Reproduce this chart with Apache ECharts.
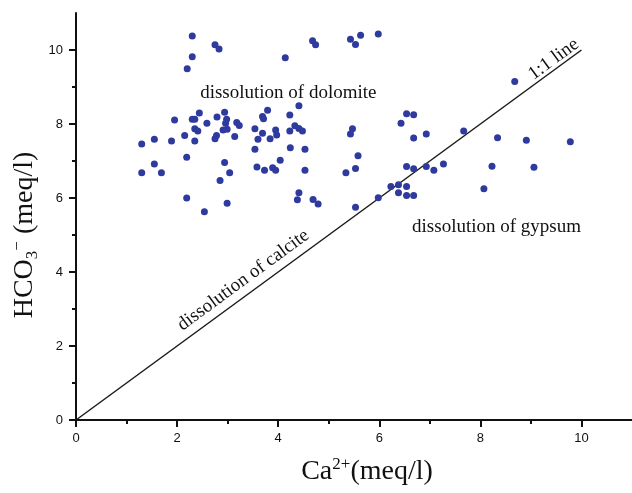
<!DOCTYPE html>
<html>
<head>
<meta charset="utf-8">
<script src="https://cdn.jsdelivr.net/npm/echarts@6/dist/echarts.min.js"></script>
<style>
  html, body { margin: 0; padding: 0; background: #ffffff; }
  #chart { width: 632px; height: 493px; }
</style>
</head>
<body>
<div id="chart"></div>
<script>
// Ca2+ (meq/l) of each water sample
const caValues = [
  2.30, 2.75, 2.83, 2.30, 2.20, 4.14, 2.44, 2.94, 1.95, 2.30,
  2.35, 2.79, 2.98, 2.59, 2.96, 3.18, 3.23, 2.35, 2.41, 2.91,
  2.99, 2.15, 2.78, 2.75, 3.14, 1.30, 1.55, 1.89, 2.35, 2.19,
  1.55, 1.69, 1.30, 2.94, 3.04, 2.85, 2.19, 2.99, 2.54, 3.79,
  3.69, 3.71, 3.54, 3.69, 3.60, 3.84, 3.95, 3.97, 4.23, 4.33,
  4.41, 4.23, 3.54, 4.24, 3.58, 3.73, 3.89, 3.95, 4.04, 4.41,
  4.41, 4.38, 4.68, 4.74, 5.43, 5.53, 5.63, 5.98, 4.48, 4.53,
  4.53, 4.69, 4.79, 5.47, 5.43, 5.58, 5.53, 5.34, 5.53, 5.98,
  6.23, 6.38, 6.38, 6.54, 6.54, 6.68, 6.54, 6.68, 6.93, 7.08,
  7.27, 6.54, 6.68, 6.43, 6.68, 6.93, 7.67, 8.68, 8.34, 8.91,
  9.78, 8.23, 9.06, 8.07
];

// HCO3- (meq/l) of the same samples
const hco3Values = [
  10.38, 10.14, 10.03, 9.82, 9.49, 9.79, 8.30, 8.32, 8.11, 8.13,
  8.13, 8.19, 8.13, 8.02, 8.02, 8.04, 7.96, 7.87, 7.81, 7.84,
  7.86, 7.69, 7.69, 7.60, 7.66, 7.46, 7.59, 7.54, 7.54, 7.10,
  6.92, 6.68, 6.68, 6.96, 6.68, 6.47, 6.00, 5.86, 5.63, 8.37,
  8.20, 8.14, 7.87, 7.75, 7.59, 7.60, 7.84, 7.70, 8.24, 7.95,
  7.88, 7.81, 7.32, 7.36, 6.84, 6.75, 6.82, 6.75, 7.02, 8.49,
  6.14, 5.95, 10.25, 10.14, 10.29, 10.15, 10.40, 10.43, 7.81, 7.32,
  6.75, 5.96, 5.84, 7.87, 7.73, 7.14, 6.80, 6.68, 5.75, 6.01,
  6.31, 6.36, 6.14, 6.31, 6.07, 6.07, 6.85, 6.79, 6.85, 6.75,
  6.92, 8.28, 8.25, 8.02, 7.62, 7.73, 7.81, 9.15, 7.63, 7.56,
  7.52, 6.86, 6.83, 6.25
];

// 1:1 reference line end points
const lineX = [0, 10];
const lineY = [0, 10];

// axis ticks
const majorTicks = [0, 2, 4, 6, 8, 10];
const minorTicks = [1, 3, 5, 7, 9];

const samples = caValues.map((v, i) => [v, hco3Values[i]]);
const equalityLine = lineX.map((v, i) => [v, lineY[i]]);

const serif = '"Liberation Serif", "DejaVu Serif", serif';
const sans = '"Liberation Sans", Arial, sans-serif';
const ink = '#111111';

function mainAxis(extra) {
  return Object.assign({
    type: 'value',
    min: 0,
    max: 11,
    interval: 1,
    axisLine: { show: true, onZero: false, lineStyle: { color: ink, width: 2 } },
    axisTick: { show: true, customValues: majorTicks, length: 7, lineStyle: { color: ink, width: 2 } },
    axisLabel: { show: true, customValues: majorTicks, margin: 12, color: ink, fontFamily: sans, fontSize: 13 },
    splitLine: { show: false }
  }, extra);
}

function minorAxis(extra) {
  return Object.assign({
    type: 'value',
    min: 0,
    max: 11,
    interval: 1,
    axisLine: { show: false, onZero: false },
    axisTick: { show: true, customValues: minorTicks, length: 4, lineStyle: { color: ink, width: 2 } },
    axisLabel: { show: false },
    splitLine: { show: false }
  }, extra);
}

const chart = echarts.init(document.getElementById('chart'), null, { renderer: 'canvas' });

chart.setOption({
  animation: false,
  backgroundColor: '#ffffff',
  grid: { left: 76, right: 0, top: 13, bottom: 73, containLabel: false },
  xAxis: [
    mainAxis({ position: 'bottom' }),
    minorAxis({ position: 'bottom', offset: 0 })
  ],
  yAxis: [
    mainAxis({ position: 'left', axisLabel: { show: true, customValues: majorTicks, margin: 13, color: ink, fontFamily: sans, fontSize: 13 } }),
    minorAxis({ position: 'left', offset: 0 })
  ],
  series: [
    {
      type: 'line',
      data: equalityLine,
      showSymbol: false,
      symbol: 'none',
      lineStyle: { color: '#1a1a1a', width: 1.5 },
      z: 2
    },
    {
      type: 'scatter',
      data: samples,
      symbol: 'circle',
      symbolSize: 7,
      itemStyle: { color: '#2f3a9e', opacity: 1 },
      z: 3
    }
  ]
});

// text annotations placed in data coordinates
const p0 = chart.convertToPixel({ gridIndex: 0 }, [0, 0]);
const p1 = chart.convertToPixel({ gridIndex: 0 }, [10, 10]);
const slope = Math.atan2(p0[1] - p1[1], p1[0] - p0[0]);

function note(text, x, y, rot) {
  const p = chart.convertToPixel({ gridIndex: 0 }, [x, y]);
  return {
    type: 'text',
    x: p[0],
    y: p[1],
    rotation: rot || 0,
    style: {
      text: text,
      fill: ink,
      font: '19px ' + serif,
      align: 'center',
      verticalAlign: 'middle'
    },
    z: 10
  };
}

chart.setOption({
  graphic: [
    note('dissolution of dolomite', 4.2, 8.84, 0),
    note('dissolution of gypsum', 8.32, 5.22, 0),
    note('dissolution of calcite', 3.31, 3.78, slope),
    note('1:1 line', 9.45, 9.75, slope),
    {
      type: 'text',
      x: 367,
      y: 472,
      style: {
        text: '{n|Ca}{sup|2+}{n|(meq/l)}',
        align: 'center',
        verticalAlign: 'middle',
        rich: {
          n: { fontFamily: serif, fontSize: 28, fill: ink, color: ink, lineHeight: 32 },
          sup: { fontFamily: serif, fontSize: 17, fill: ink, color: ink, verticalAlign: 'top', lineHeight: 32 }
        }
      }
    },
    {
      type: 'text',
      x: 25,
      y: 235,
      rotation: Math.PI / 2,
      style: {
        text: '{n|HCO}{sub|3}{sup|−}{n| (meq/l)}',
        align: 'center',
        verticalAlign: 'middle',
        rich: {
          n: { fontFamily: serif, fontSize: 28, fill: ink, color: ink, lineHeight: 32 },
          sub: { fontFamily: serif, fontSize: 17, fill: ink, color: ink, verticalAlign: 'bottom', lineHeight: 26 },
          sup: { fontFamily: serif, fontSize: 17, fill: ink, color: ink, verticalAlign: 'top', lineHeight: 32 }
        }
      }
    }
  ]
});
</script>
</body>
</html>
